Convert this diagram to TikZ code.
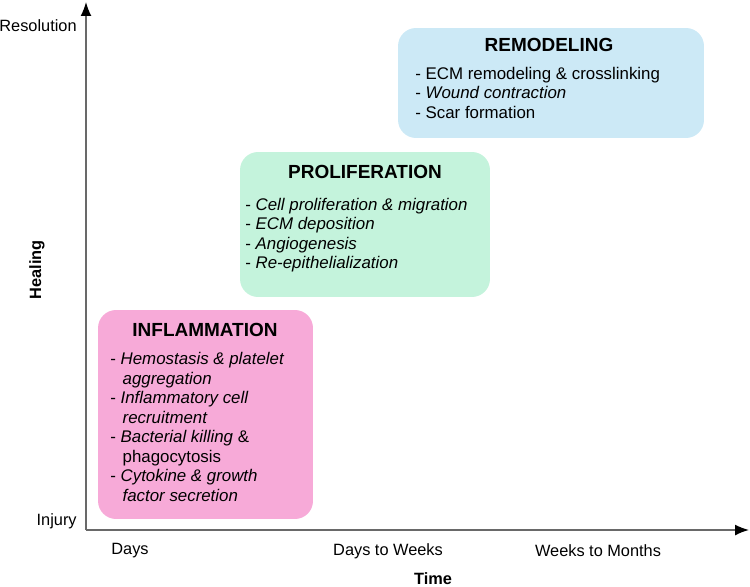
\documentclass[tikz,border=0pt]{standalone}
\usepackage{fontspec}
\setmainfont{Liberation Sans}
\usetikzlibrary{arrows.meta}

\definecolor{inflpink}{RGB}{247,170,216}
\definecolor{prolgreen}{RGB}{196,243,220}
\definecolor{remblue}{RGB}{204,233,246}
\definecolor{axisgray}{RGB}{105,105,105}

\begin{document}
\begin{tikzpicture}[x=0.02cm, y=-0.02cm]
            \tikzstyle{phase} = [draw=none, rounded corners=0.36cm, inner sep=0pt]
            \tikzstyle{title} = [font=\fontsize{10.8}{13}\selectfont\bfseries, inner sep=0pt]
            \tikzstyle{items} = [font=\fontsize{9.6}{11}\selectfont, align=left, inner sep=0pt, anchor=north west]
            \tikzstyle{legend} = [font=\fontsize{9.3}{11}\selectfont, inner sep=0pt]
            \tikzstyle{axis} = [draw=axisgray, line width=0.9pt, -{Latex[length=2.8mm, width=2.2mm, black]}]

            \useasboundingbox (0,0) rectangle (750,587);

            \coordinate (origin) at (86,530);
            \coordinate (ytop) at (86,2);
            \coordinate (xend) at (749,530);

            \draw [axis] (origin) -- (ytop);
            \draw [axis] (origin) -- (xend);

            \node[legend, anchor=east] (res) at (77,26) {Resolution};
            \node[legend, anchor=east] (inj) at (77,521) {Injury};
            \node[legend, font=\fontsize{9.3}{11}\selectfont\bfseries, rotate=90] (heal) at (37,270) {Healing};
            \node[legend] (days) at (130,551) {Days};
            \node[legend] (dtw) at (388,551) {Days to Weeks};
            \node[legend] (wtm) at (598,551) {Weeks to Months};
            \node[legend, font=\fontsize{9.3}{11}\selectfont\bfseries] (time) at (433,579) {Time};

            % phase boxes
            \node[phase, fill=remblue, minimum width=6.12cm, minimum height=2.2cm] (remod) at (551,83) {};
            \node[phase, fill=prolgreen, minimum width=5cm, minimum height=2.9cm] (prolif) at (365,224.5) {};
            \node[phase, fill=inflpink, minimum width=4.3cm, minimum height=4.18cm] (inflam) at (205.5,414.5) {};

            \node[title] (remodtitle) at (549,45) {REMODELING};
            \node[title] (proliftitle) at (365,172) {PROLIFERATION};
            \node[title] (inflamtitle) at (205,330) {INFLAMMATION};

            \node[items] (remodlist) at (415,67) {- ECM remodeling \& crosslinking\\
              - \textit{Wound contraction}\\
              - Scar formation};
            \node[items] (prolist) at (245,198) {- \textit{Cell proliferation \& migration}\\
              - \textit{ECM deposition}\\
              - \textit{Angiogenesis}\\
              - \textit{Re-epithelialization}};
            \node[items, font=\fontsize{9.6}{11.1}\selectfont] (inflamlist) at (110,352) {- \textit{Hemostasis \& platelet}\\
              \hspace*{7pt}\textit{aggregation}\\
              - \textit{Inflammatory cell}\\
              \hspace*{7pt}\textit{recruitment}\\
              - \textit{Bacterial killing} \&\\
              \hspace*{7pt}phagocytosis\\
              - \textit{Cytokine \& growth}\\
              \hspace*{7pt}\textit{factor secretion}};
          \end{tikzpicture}
\end{document}
